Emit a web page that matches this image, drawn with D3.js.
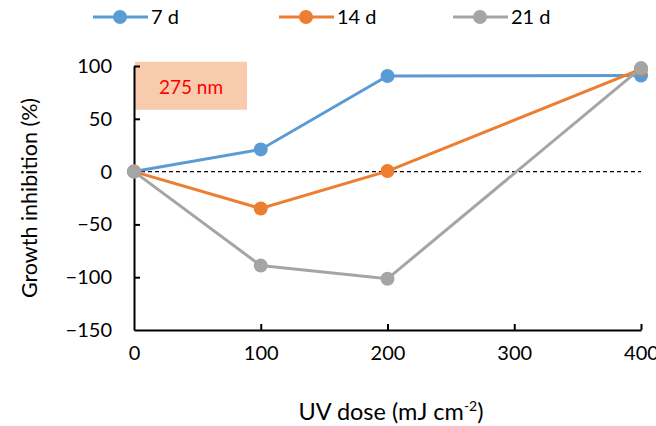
<!DOCTYPE html>
<html lang="en">
<head>
  <meta charset="UTF-8">
  <title>Growth inhibition vs UV dose</title>
  <style>
    body { margin: 0; background: #fff; }
    svg text { font-family: Lato, 'Open Sans', Arial, sans-serif; fill: #000; }
  </style>
</head>
<body>
<div id="chart"></div>
<script src="https://d3js.org/d3.v7.min.js"></script>
<script>
  // data
  var doses = [0, 100, 200, 400];
  var seriesNames = ["7 d", "14 d", "21 d"];
  var colors = ["#5B9BD5", "#ED7D31", "#A5A5A5"];
  var day7 = [0, 21, 90.5, 91];
  var day14 = [0, -35, 0.5, 97];
  var day21 = [0, -89, -101.5, 98];
  var xTicks = [0, 100, 200, 300, 400];
  var yTicks = [-150, -100, -50, 0, 50, 100];

  var W = 656, H = 426;
  var margin = {top: 66, right: 15, bottom: 96, left: 134};

  var svg = d3.select("#chart").append("svg")
    .attr("width", W).attr("height", H);

  var x = d3.scaleLinear().domain([0, 400]).range([margin.left, W - margin.right]);
  var y = d3.scaleLinear().domain([-150, 100]).range([H - margin.bottom, margin.top]);

  // label box
  svg.append("rect")
    .attr("x", x(0) + 1).attr("y", y(104))
    .attr("width", 112).attr("height", 48)
    .attr("fill", "#F8CBAD");
  svg.append("text")
    .attr("x", x(0) + 57).attr("y", y(104) + 32)
    .attr("text-anchor", "middle")
    .style("font-size", "19px")
    .style("fill", "#FF0000")
    .text("275 nm");

  // axes, ticks inward
  var xAxis = svg.append("g")
    .attr("transform", "translate(0," + y(-150) + ")")
    .call(d3.axisBottom(x).tickValues(xTicks).tickSizeInner(-6).tickSizeOuter(0).tickPadding(16));
  var yAxis = svg.append("g")
    .attr("transform", "translate(" + x(0) + ",0)")
    .call(d3.axisLeft(y).tickValues(yTicks).tickSizeInner(-6).tickSizeOuter(0).tickPadding(22));

  [xAxis, yAxis].forEach(function(g) {
    g.select(".domain").attr("stroke", "#000").attr("stroke-width", 2);
    g.selectAll(".tick line").attr("stroke", "#000").attr("stroke-width", 2);
    g.selectAll(".tick text").style("font-size", "20px").attr("fill", "#000");
  });
  xAxis.selectAll(".tick").filter(function(d) { return d === 0; }).select("line").remove();
  yAxis.selectAll(".tick").filter(function(d) { return d === -150; }).select("line").remove();

  // zero reference line
  svg.append("line")
    .attr("x1", x(0)).attr("x2", x(400))
    .attr("y1", y(0)).attr("y2", y(0))
    .attr("stroke", "#000").attr("stroke-width", 1.3)
    .attr("stroke-dasharray", "4,3");

  // series
  var allSeries = [day7, day14, day21];
  var line = d3.line().x(function(d, i) { return x(doses[i]); }).y(function(d) { return y(d); });

  allSeries.forEach(function(vals, k) {
    svg.append("path")
      .datum(vals)
      .attr("d", line)
      .attr("fill", "none")
      .attr("stroke", colors[k])
      .attr("stroke-width", 3);
    svg.append("g").selectAll("circle")
      .data(vals)
      .join("circle")
      .attr("cx", function(d, i) { return x(doses[i]); })
      .attr("cy", function(d) { return y(d); })
      .attr("r", 7)
      .attr("fill", colors[k]);
  });

  // axis titles
  svg.append("text")
    .attr("transform", "translate(37," + y(-25) + ") rotate(-90)")
    .attr("text-anchor", "middle")
    .style("font-size", "21.5px")
    .text("Growth inhibition (%)");

  var xt = svg.append("text")
    .attr("x", 391).attr("y", 420)
    .attr("text-anchor", "middle")
    .style("font-size", "23.5px");
  xt.append("tspan").text("UV dose (mJ cm");
  xt.append("tspan").attr("dy", -9).style("font-size", "14px").text("-2");
  xt.append("tspan").attr("dy", 9).text(")");

  // legend
  var legendX = [93, 279, 453];
  seriesNames.forEach(function(name, k) {
    var g = svg.append("g").attr("transform", "translate(" + legendX[k] + ",17)");
    g.append("line").attr("x1", 0).attr("x2", 55).attr("y1", 0).attr("y2", 0)
      .attr("stroke", colors[k]).attr("stroke-width", 3);
    g.append("circle").attr("cx", 27).attr("cy", 0).attr("r", 7).attr("fill", colors[k]);
    g.append("text").attr("x", 58).attr("y", 7).style("font-size", "20px").text(name);
  });
</script>
</body>
</html>
